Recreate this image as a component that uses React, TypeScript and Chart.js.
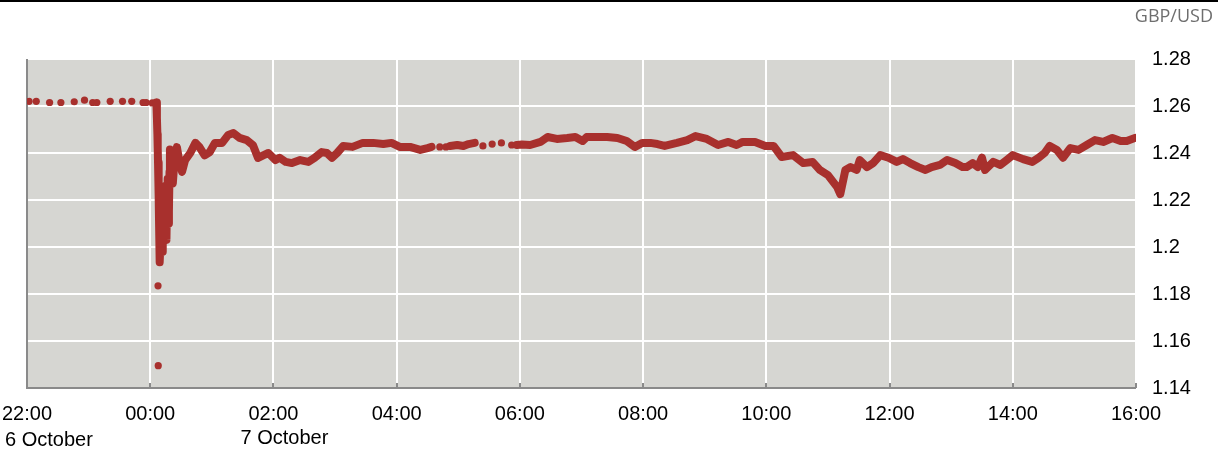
import React, { useEffect, useRef } from "react";
import { Chart, registerables } from "chart.js";

Chart.register(...registerables);

// minutes after 22:00 (6 October)
const preDotMinutes = [2, 9, 22, 33, 46, 56, 64, 68, 81, 93, 102, 113, 116, 122];
const preDotValues = [1.262, 1.262, 1.2615, 1.2615, 1.2618, 1.2625, 1.2615, 1.2615, 1.262, 1.262, 1.262, 1.2615, 1.2615, 1.2613];

const midDotMinutes = [402, 408, 444, 453, 462, 472];
const midDotValues = [1.2426, 1.2426, 1.243, 1.2438, 1.2443, 1.2434];

const outlierMinutes = [127.6, 127.8];
const outlierValues = [1.1835, 1.1495];

// continuous trading (null = no trades, line broken)
const denseMinutes = [
  126, 126.5, 127, 127.3, 127.6, 128, 128.4, 128.8, 129.2, 129.8, 130.4, 131, 131.6, 132.2, 132.8, 133.4,
  134, 134.6, 135.2, 135.8, 136.4, 137, 137.6, 138.2, 138.8, 139.2, 139.8,
  141, 142, 143.5, 146, 148.5,
  151, 154, 159, 164, 168, 173, 178, 183, 190, 196, 201, 207, 214, 220, 225, 230, 235, 242, 246, 252,
  258, 266, 274, 280, 287, 292, 297, 302, 308, 317, 327, 337, 347, 355, 363, 373, 383, 390, 394,
  400,
  412, 419, 425, 430, 436,
  456,
  477, 482, 490, 500, 507, 516, 526, 534, 541, 545, 555, 565, 575, 584, 592, 599, 607, 614, 621, 633,
  643, 651, 662, 673, 683, 691, 697, 709, 719, 727, 735, 746, 756, 765, 772, 780, 789, 792, 797, 802,
  808, 811, 818, 824, 831, 839, 847, 853, 860, 868, 875, 881, 889, 896, 904, 911, 915, 921, 926, 930,
  933, 941, 948, 954, 960, 970, 979, 985, 991, 996, 1003, 1009, 1016, 1024, 1032, 1040, 1048, 1057,
  1065, 1071, 1079,
];
const denseValues = [
  1.2615, 1.255, 1.248, 1.242, 1.236, 1.228, 1.222, 1.205, 1.1935, 1.2, 1.222, 1.205, 1.198, 1.215, 1.224, 1.205,
  1.212, 1.226, 1.208, 1.203, 1.22, 1.229, 1.21, 1.215, 1.232, 1.2415, 1.236,
  1.228, 1.227, 1.236, 1.2425, 1.236,
  1.232, 1.237, 1.24, 1.2443, 1.2425, 1.239, 1.2404, 1.2443, 1.2443, 1.2477, 1.2485, 1.2464, 1.2455, 1.2434, 1.2379, 1.239, 1.24, 1.237, 1.238, 1.2362,
  1.2357, 1.237, 1.2362, 1.2379, 1.2404, 1.24, 1.238, 1.24, 1.243, 1.2426, 1.2443, 1.2443, 1.2438, 1.2443, 1.2426, 1.2426, 1.2413, 1.2421, 1.2426,
  null,
  1.243, 1.2434, 1.243, 1.2438, 1.2443,
  null,
  1.2434, 1.2436, 1.2434, 1.2447, 1.2468, 1.246, 1.2464, 1.2468, 1.2451, 1.2468, 1.2468, 1.2468, 1.2464, 1.2451, 1.2426, 1.2443, 1.2443, 1.2438, 1.243, 1.2443,
  1.2455, 1.2472, 1.246, 1.2434, 1.2447, 1.2434, 1.2447, 1.2447, 1.243, 1.243, 1.2383, 1.2391, 1.2357, 1.2362, 1.2328, 1.2306, 1.2255, 1.2225, 1.2328, 1.234,
  1.2328, 1.237, 1.234, 1.2357, 1.2391, 1.238, 1.2362, 1.2374, 1.2357, 1.234, 1.2328, 1.234, 1.2349, 1.237, 1.2357, 1.234, 1.234, 1.2357, 1.234, 1.238,
  1.2328, 1.2362, 1.2349, 1.237, 1.2391, 1.2374, 1.2362, 1.2379, 1.24, 1.243, 1.2413, 1.238, 1.2421, 1.2413, 1.2434, 1.2455, 1.2447, 1.2464,
  1.2451, 1.2451, 1.2464,
];

const xTickLabels = ["22:00", "00:00", "02:00", "04:00", "06:00", "08:00", "10:00", "12:00", "14:00", "16:00"];
const dateLabels = ["6 October", "7 October"];
const dateLabelMinutes = [0, 240];
const yTicks = [1.14, 1.16, 1.18, 1.2, 1.22, 1.24, 1.26, 1.28];
const unitLabel = "GBP/USD";

const RED = "#a8302d";
const BG = "#d6d6d2";
const AXIS = "#8a8a8a";
const FONT = "'Liberation Sans', Arial, sans-serif";
const FSIZE = 20;

const toPts = (xs: number[], ys: (number | null)[]) => xs.map((x, i) => ({ x, y: ys[i] }));

const decor = {
  id: "decor",
  beforeDraw(chart: any) {
    const { ctx, chartArea: a } = chart;
    ctx.save();
    ctx.fillStyle = BG;
    ctx.fillRect(a.left, a.top, a.right - a.left, a.bottom - a.top);
    ctx.fillStyle = "#000";
    ctx.fillRect(0, 0, chart.width, 2);
    ctx.fillStyle = "#6e6e6e";
    ctx.font = "18px 'Open Sans', 'Noto Sans', sans-serif";
    ctx.textAlign = "right";
    ctx.textBaseline = "alphabetic";
    ctx.fillText(unitLabel, 1213, 22);
    ctx.restore();
  },
  beforeDatasetsDraw(chart: any) {
    const { ctx, chartArea: a, scales } = chart;
    ctx.save();
    ctx.fillStyle = AXIS;
    ctx.fillRect(a.left - 1, a.top, 2, a.bottom - a.top);
    ctx.fillRect(a.left - 1, a.bottom - 1, a.right - a.left + 1, 2);
    for (let m = 0; m <= 1080; m += 120) {
      const px = scales.x.getPixelForValue(m);
      ctx.fillRect(Math.round(px) - 1, a.bottom - 5, 2, 5);
    }
    ctx.fillStyle = "#000";
    ctx.font = FSIZE + "px " + FONT;
    ctx.textBaseline = "alphabetic";
    ctx.textAlign = "left";
    ctx.fillText(dateLabels[0], scales.x.getPixelForValue(dateLabelMinutes[0]) - 22, 446);
    ctx.textAlign = "center";
    ctx.fillText(dateLabels[1], scales.x.getPixelForValue(dateLabelMinutes[1]) + 11, 444);
    ctx.restore();
  },
};

export default function App() {
  const ref = useRef<HTMLCanvasElement | null>(null);
  useEffect(() => {
    document.body.style.margin = "0";
    const dotStyle = { pointRadius: 3.6, pointBackgroundColor: RED, pointBorderWidth: 0 };
    const chart = new Chart(ref.current as HTMLCanvasElement, {
      type: "scatter",
      data: {
        datasets: [
          {
            data: toPts(denseMinutes, denseValues),
            showLine: true,
            spanGaps: false,
            borderColor: RED,
            borderWidth: 8,
            borderCapStyle: "round",
            borderJoinStyle: "round",
            pointRadius: 0,
            tension: 0,
          } as any,
          { data: toPts(preDotMinutes, preDotValues), ...dotStyle },
          { data: toPts(midDotMinutes, midDotValues), ...dotStyle },
          { data: toPts(outlierMinutes, outlierValues), ...dotStyle },
        ],
      },
      options: {
        responsive: false,
        animation: false,
        layout: { padding: { top: 59, left: 27, right: 0, bottom: 0 } },
        plugins: { legend: { display: false }, tooltip: { enabled: false } },
        scales: {
          x: {
            type: "linear",
            min: 0,
            max: 1080,
            afterFit: (s: any) => {
              s.height = 61;
              s.paddingLeft = 0;
              s.paddingRight = 0;
            },
            afterBuildTicks: (s: any) => { s.ticks = xTickLabels.map((_, i) => ({ value: i * 120 })); },
            ticks: {
              callback: (v: any) => xTickLabels[Math.round(Number(v) / 120)],
              color: "#000",
              font: { family: FONT, size: FSIZE },
              padding: 14,
              maxRotation: 0,
              autoSkip: false,
            },
            grid: { color: "#ffffff", lineWidth: 2, drawTicks: false },
            border: { display: false },
          },
          y: {
            position: "right",
            min: 1.14,
            max: 1.28,
            afterFit: (s: any) => {
              s.width = 82;
              s.paddingTop = 0;
              s.paddingBottom = 0;
            },
            afterBuildTicks: (s: any) => { s.ticks = yTicks.map((v) => ({ value: v })); },
            ticks: {
              callback: (v: any) => String(Number(Number(v).toFixed(2))),
              color: "#000",
              font: { family: FONT, size: FSIZE },
              padding: 16,
            },
            grid: { color: "#ffffff", lineWidth: 2, drawTicks: false },
            border: { display: false },
          },
        },
      },
      plugins: [decor],
    });
    return () => chart.destroy();
  }, []);
  return (
    <div style={{ width: 1218, height: 449 }}>
      <canvas ref={ref} width={1218} height={449} style={{ display: "block" }} />
    </div>
  );
}
